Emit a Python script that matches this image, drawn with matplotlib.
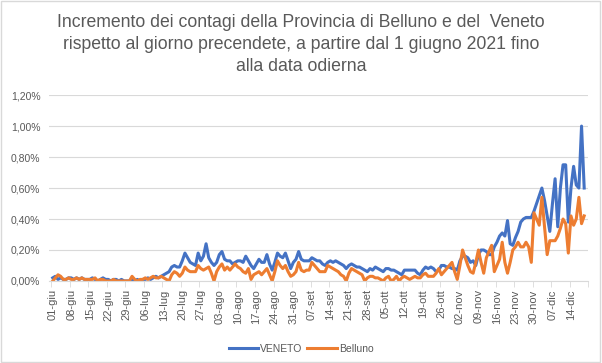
import numpy as np
import matplotlib
matplotlib.use('Agg')
import matplotlib.pyplot as plt
from matplotlib.patches import Rectangle
from matplotlib.ticker import FuncFormatter

plt.rcParams['font.family'] = ['Liberation Sans', 'DejaVu Sans']

# Daily increase (%) from 01-giu-2021, one row per week
veneto = [
    0.02, 0.03, 0.01, 0.02, 0.01, 0.01, 0.02,
    0.02, 0.01, 0.02, 0.01, 0.02, 0.01, 0.01,
    0.01, 0.02, 0.01, 0.00, 0.01, 0.02, 0.01,
    0.01, 0.00, 0.01, 0.01, 0.00, 0.01, 0.00,
    0.00, 0.00, 0.01, 0.00, 0.01, 0.00, 0.01,
    0.01, 0.02, 0.01, 0.02, 0.03, 0.02, 0.03,
    0.04, 0.05, 0.06, 0.09, 0.10, 0.09, 0.09,
    0.13, 0.18, 0.15, 0.12, 0.11, 0.10, 0.18,
    0.13, 0.16, 0.24, 0.15, 0.12, 0.10, 0.12,
    0.17, 0.19, 0.14, 0.13, 0.13, 0.11, 0.12,
    0.13, 0.13, 0.12, 0.16, 0.13, 0.10, 0.08,
    0.11, 0.14, 0.12, 0.12, 0.17, 0.11, 0.07,
    0.12, 0.18, 0.16, 0.15, 0.18, 0.13, 0.08,
    0.12, 0.14, 0.19, 0.14, 0.13, 0.13, 0.13,
    0.15, 0.14, 0.13, 0.13, 0.11, 0.10, 0.12,
    0.13, 0.12, 0.13, 0.12, 0.11, 0.10, 0.08,
    0.10, 0.11, 0.10, 0.09, 0.09, 0.08, 0.07,
    0.06, 0.08, 0.07, 0.09, 0.08, 0.07, 0.06,
    0.08, 0.08, 0.07, 0.07, 0.06, 0.05, 0.04,
    0.07, 0.07, 0.07, 0.07, 0.07, 0.05, 0.04,
    0.07, 0.09, 0.08, 0.09, 0.08, 0.06, 0.07,
    0.10, 0.10, 0.09, 0.09, 0.08, 0.08, 0.07,
    0.13, 0.16, 0.16, 0.15, 0.12, 0.13, 0.10,
    0.17, 0.20, 0.20, 0.19, 0.17, 0.17, 0.22,
    0.25, 0.29, 0.31, 0.29, 0.39, 0.24, 0.23,
    0.28, 0.32, 0.38, 0.40, 0.41, 0.41, 0.41,
    0.45, 0.50, 0.55, 0.60, 0.52, 0.42, 0.32,
    0.50, 0.66, 0.35, 0.60, 0.75, 0.75, 0.38,
    0.60, 0.74, 0.62, 0.60, 1.00, 0.60,
]

belluno = [
    0.00, 0.02, 0.04, 0.03, 0.01, 0.01, 0.02,
    0.01, 0.01, 0.02, 0.01, 0.02, 0.01, 0.01,
    0.01, 0.01, 0.02, 0.00, 0.01, 0.01, 0.00,
    0.00, 0.00, 0.01, 0.00, 0.00, 0.00, 0.00,
    0.00, 0.00, 0.03, 0.01, 0.00, 0.01, 0.01,
    0.02, 0.01, 0.02, 0.03, 0.02, 0.02, 0.03,
    0.02, 0.01, 0.00, 0.04, 0.06, 0.05, 0.03,
    0.05, 0.09, 0.07, 0.06, 0.06, 0.06, 0.10,
    0.08, 0.07, 0.08, 0.09, 0.05, 0.00, 0.06,
    0.09, 0.11, 0.07, 0.09, 0.07, 0.09, 0.11,
    0.09, 0.08, 0.06, 0.05, 0.08, 0.01, 0.04,
    0.05, 0.06, 0.04, 0.06, 0.08, 0.04, 0.00,
    0.06, 0.13, 0.10, 0.08, 0.10, 0.06, 0.03,
    0.04, 0.06, 0.12, 0.07, 0.06, 0.07, 0.07,
    0.12, 0.10, 0.08, 0.06, 0.06, 0.06, 0.10,
    0.09, 0.08, 0.07, 0.06, 0.04, 0.03, 0.00,
    0.05, 0.08, 0.07, 0.06, 0.05, 0.04, 0.00,
    0.02, 0.03, 0.03, 0.02, 0.02, 0.01, 0.00,
    0.02, 0.03, 0.00, 0.01, 0.03, 0.00, 0.02,
    0.03, 0.02, 0.01, 0.02, 0.03, 0.02, 0.02,
    0.04, 0.05, 0.03, 0.03, 0.03, 0.05, 0.08,
    0.04, 0.06, 0.08, 0.10, 0.12, 0.06, 0.01,
    0.10, 0.20, 0.15, 0.10, 0.06, 0.05, 0.12,
    0.20, 0.12, 0.05, 0.15, 0.19, 0.23, 0.06,
    0.10, 0.14, 0.25, 0.12, 0.05, 0.12, 0.20,
    0.22, 0.25, 0.22, 0.22, 0.25, 0.22, 0.12,
    0.44, 0.40, 0.36, 0.54, 0.35, 0.17, 0.26,
    0.26, 0.26, 0.29, 0.34, 0.40, 0.37, 0.18,
    0.42, 0.36, 0.40, 0.54, 0.37, 0.42,
]

tick_labels = ['01-giu', '08-giu', '15-giu', '22-giu', '29-giu', '06-lug',
               '13-lug', '20-lug', '27-lug', '03-ago', '10-ago', '17-ago',
               '24-ago', '31-ago', '07-set', '14-set', '21-set', '28-set',
               '05-ott', '12-ott', '19-ott', '26-ott', '02-nov', '09-nov',
               '16-nov', '23-nov', '30-nov', '07-dic', '14-dic']

title = ('Incremento dei contagi della Provincia di Belluno e del  Veneto\n'
         'rispetto al giorno precendete, a partire dal 1 giugno 2021 fino\n'
         'alla data odierna')

days = np.arange(len(veneto))
grey = '#595959'

fig = plt.figure(figsize=(6.02, 3.63), dpi=100)
fig.patches.append(Rectangle((0.002, 0.003), 0.995, 0.994, transform=fig.transFigure,
                             fill=False, edgecolor='#D9D9D9', linewidth=1))

ax = fig.add_axes([0.081, 0.226, 0.896, 0.512])
ax.plot(days, veneto, color='#4472C4', linewidth=2.2, label='VENETO')
ax.plot(days, belluno, color='#ED7D31', linewidth=2.2, label='Belluno')

ax.set_xlim(-1.5, 202.5)
ax.set_ylim(0, 1.2)
ax.set_yticks(np.arange(0, 1.21, 0.2))
ax.yaxis.set_major_formatter(FuncFormatter(lambda v, p: f'{v:.2f}%'.replace('.', ',')))
ax.set_xticks(np.arange(len(tick_labels)) * 7)
ax.set_xticklabels(tick_labels, rotation=90)
ax.set_xticks(np.arange(len(tick_labels) + 1) * 7 - 0.5, minor=True)

ax.grid(axis='y', color='#D9D9D9', linewidth=0.8)
ax.set_axisbelow(True)
for s in ['top', 'right', 'left']:
    ax.spines[s].set_visible(False)
ax.spines['bottom'].set_color('#D9D9D9')
ax.tick_params(axis='y', length=0, labelsize=7.5, labelcolor=grey, pad=6)
ax.tick_params(axis='x', which='major', length=0, labelsize=8, labelcolor=grey, pad=6)
ax.tick_params(axis='x', which='minor', length=4, color='#D9D9D9')

fig.text(0.5, 0.962, title, ha='center', va='top', fontsize=12.7, color=grey,
         linespacing=1.4)

fig.legend(loc='lower center', bbox_to_anchor=(0.5, 0.0), ncol=2, frameon=False,
           fontsize=7.5, labelcolor=grey, handlelength=2.8, handletextpad=0.2,
           columnspacing=0.5)

fig.savefig('out.png', dpi=100)
